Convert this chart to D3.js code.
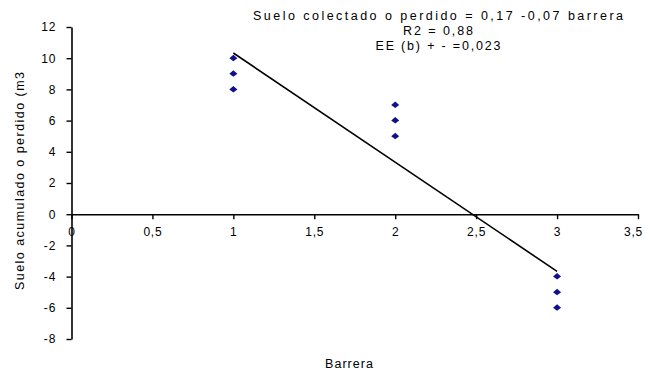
<!DOCTYPE html>
<html>
<head>
<meta charset="utf-8">
<script src="https://cdn.jsdelivr.net/npm/d3@7"></script>
<style>
  html, body { margin: 0; padding: 0; background: #fff; }
  svg { display: block; }
  text { font-family: "Liberation Sans", Arial, sans-serif; fill: #000; }
</style>
</head>
<body>
<svg id="chart" width="645" height="371"></svg>
<script>
// Observed soil per barrier
const barreras = [1, 1, 1, 2, 2, 2, 3, 3, 3];
const suelo = [10, 9, 8, 7, 6, 5, -4, -5, -6];

// Axis ticks
const xTicks = [0, 0.5, 1, 1.5, 2, 2.5, 3, 3.5];
const yTicks = [-8, -6, -4, -2, 0, 2, 4, 6, 8, 10, 12];

// Annotation lines
const ecuacion = [
  "Suelo colectado o perdido = 0,17 -0,07 barrera",
  "R2 = 0,88",
  "EE (b) + - =0,023"
];

const svg = d3.select("#chart");
const x = d3.scaleLinear().domain([0, 3.5]).range([71.5, 638]);
const y = d3.scaleLinear().domain([-8, 12]).range([339, 27]);

const es = d3.formatLocale({ decimal: ",", thousands: ".", grouping: [3], currency: ["", ""] });
const fmt = v => es.format("~g")(v).replace("−", "-");

// Y axis
const yAxis = svg.append("g")
  .attr("transform", `translate(${x(0)},0)`)
  .call(d3.axisLeft(y).tickValues(yTicks).tickSize(5).tickSizeOuter(0).tickPadding(10).tickFormat(fmt));
yAxis.select(".domain").attr("stroke", "#000").attr("stroke-width", 1.6);
yAxis.selectAll(".tick line").attr("stroke", "#000").attr("stroke-width", 1.4);
yAxis.selectAll(".tick text").attr("font-size", 12).attr("letter-spacing", 1).attr("font-family", "Liberation Sans, Arial, sans-serif").attr("fill", "#000");

// X axis crossing at zero
const xAxis = svg.append("g")
  .attr("transform", `translate(0,${y(0)})`)
  .call(d3.axisBottom(x).tickValues(xTicks).tickSize(5).tickSizeOuter(0).tickPadding(8).tickFormat(fmt));
xAxis.select(".domain").attr("stroke", "#000").attr("stroke-width", 1.6);
xAxis.selectAll(".tick line").attr("stroke", "#000").attr("stroke-width", 1.4);
xAxis.selectAll(".tick text").attr("font-size", 12).attr("letter-spacing", 0.8).attr("font-family", "Liberation Sans, Arial, sans-serif").attr("fill", "#000");
// keep the last label inside the frame
xAxis.selectAll(".tick text").filter(d => d === 3.5).attr("dx", -5);

// Least-squares fit through the observations
const mx = d3.mean(barreras), my = d3.mean(suelo);
const sxy = d3.sum(barreras, (b, i) => (b - mx) * (suelo[i] - my));
const sxx = d3.sum(barreras, b => (b - mx) * (b - mx));
const slope = sxy / sxx, intercept = my - slope * mx;
const [x0, x1] = d3.extent(barreras);

svg.append("path")
  .datum([x0, x1])
  .attr("d", d3.line().x(d => x(d)).y(d => y(intercept + slope * d)))
  .attr("stroke", "#000")
  .attr("stroke-width", 1.6)
  .attr("fill", "none");

// Diamond markers
svg.append("g").selectAll("path")
  .data(barreras.map((b, i) => [b, suelo[i]]))
  .join("path")
  .attr("transform", d => `translate(${x(d[0])},${y(d[1])})`)
  .attr("d", "M0,-3.5 L4,0 L0,3 L-4,0 Z")
  .attr("fill", "#10108a");

// Equation annotation
const ann = svg.append("g").attr("font-size", 12.5);
const annWidths = [370, 70, 125];
ecuacion.forEach((t, i) => {
  ann.append("text")
    .attr("x", 438)
    .attr("y", 20 + i * 15)
    .attr("text-anchor", "middle")
    .attr("textLength", annWidths[i])
    .attr("lengthAdjust", "spacing")
    .text(t);
});

// Axis titles
svg.append("text")
  .attr("x", 349)
  .attr("y", 368)
  .attr("text-anchor", "middle")
  .attr("font-size", 12.5)
  .attr("textLength", 48)
  .attr("lengthAdjust", "spacing")
  .text("Barrera");

svg.append("text")
  .attr("transform", "translate(24,181) rotate(-90)")
  .attr("text-anchor", "middle")
  .attr("font-size", 12.5)
  .attr("textLength", 218)
  .attr("lengthAdjust", "spacing")
  .text("Suelo acumulado o perdido (m3");
</script>
</body>
</html>
